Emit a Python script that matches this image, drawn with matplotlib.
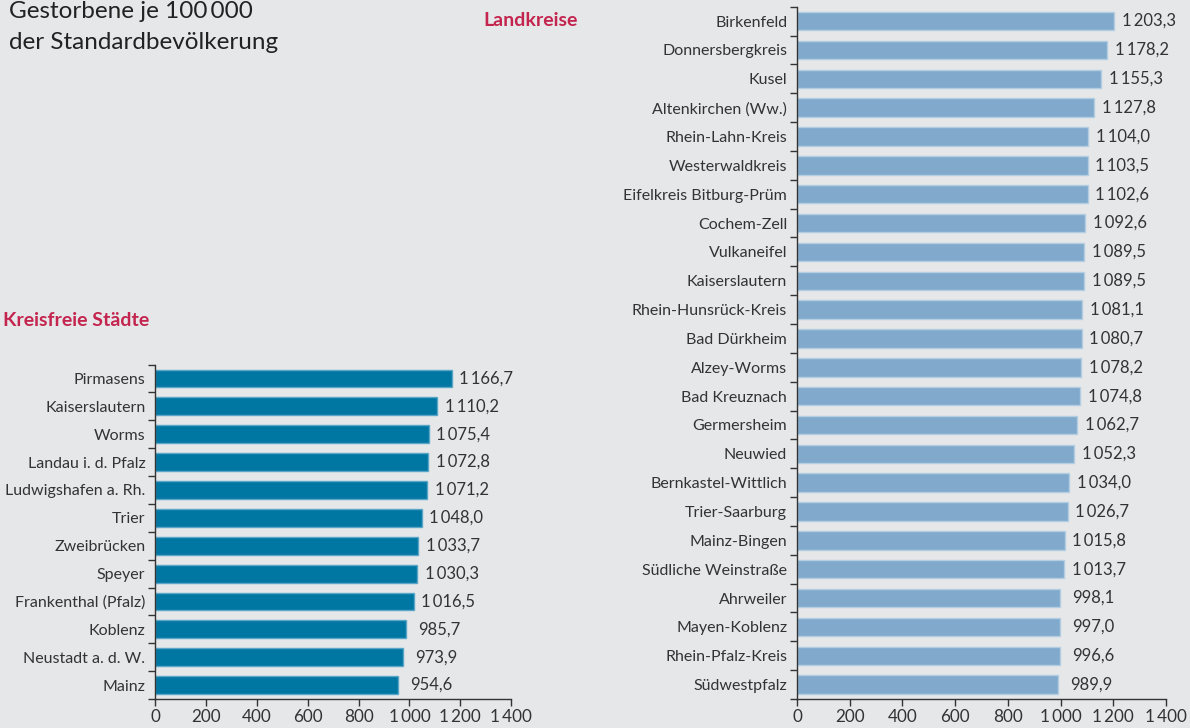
import matplotlib.pyplot as plt
from matplotlib.ticker import FixedLocator
import numpy as np

plt.rcParams['font.family'] = ['Lato', 'DejaVu Sans']

BG = '#e6e7e9'
TXT = '#333333'
RED = '#c4254f'

staedte = ['Pirmasens', 'Kaiserslautern', 'Worms', 'Landau i. d. Pfalz',
           'Ludwigshafen a. Rh.', 'Trier', 'Zweibrücken', 'Speyer',
           'Frankenthal (Pfalz)', 'Koblenz', 'Neustadt a. d. W.', 'Mainz']
staedte_vals = [1166.7, 1110.2, 1075.4, 1072.8, 1071.2, 1048.0, 1033.7,
                1030.3, 1016.5, 985.7, 973.9, 954.6]

kreise = ['Birkenfeld', 'Donnersbergkreis', 'Kusel', 'Altenkirchen (Ww.)',
          'Rhein-Lahn-Kreis', 'Westerwaldkreis', 'Eifelkreis Bitburg-Prüm',
          'Cochem-Zell', 'Vulkaneifel', 'Kaiserslautern', 'Rhein-Hunsrück-Kreis',
          'Bad Dürkheim', 'Alzey-Worms', 'Bad Kreuznach', 'Germersheim',
          'Neuwied', 'Bernkastel-Wittlich', 'Trier-Saarburg', 'Mainz-Bingen',
          'Südliche Weinstraße', 'Ahrweiler', 'Mayen-Koblenz',
          'Rhein-Pfalz-Kreis', 'Südwestpfalz']
kreise_vals = [1203.3, 1178.2, 1155.3, 1127.8, 1104.0, 1103.5, 1102.6, 1092.6,
               1089.5, 1089.5, 1081.1, 1080.7, 1078.2, 1074.8, 1062.7, 1052.3,
               1034.0, 1026.7, 1015.8, 1013.7, 998.1, 997.0, 996.6, 989.9]

xticks = [0, 200, 400, 600, 800, 1000, 1200, 1400]


def fmt(v):
    s = f"{v:,.1f}"
    return s.replace(',', '\u2009').replace('.', ',')


def draw(ax, names, vals, color, edge):
    n = len(names)
    y = np.arange(n)
    ax.barh(y, vals, height=0.64, color=color, edgecolor=edge, linewidth=1.0)
    ax.set_ylim(n - 0.5, -0.5)
    ax.set_xlim(0, 1400)
    ax.set_facecolor(BG)
    ax.set_yticks(y)
    ax.set_yticklabels(names, fontsize=11.5, color=TXT)
    ax.tick_params(axis='y', which='major', length=0, pad=7)
    ax.yaxis.set_minor_locator(FixedLocator(np.arange(n + 1) - 0.5))
    ax.tick_params(axis='y', which='minor', length=5, width=1, color=TXT)
    ax.set_xticks(xticks)
    ax.set_xticklabels([fmt(t)[:-2] for t in xticks], fontsize=12.3, color=TXT)
    ax.tick_params(axis='x', length=5, width=1, color=TXT, pad=2)
    for s in ['top', 'right']:
        ax.spines[s].set_visible(False)
    for s in ['left', 'bottom']:
        ax.spines[s].set_color(TXT)
        ax.spines[s].set_linewidth(1)
    for yi, v in zip(y, vals):
        off = 5.5 if v >= 1000 else 9
        ax.annotate(fmt(v), (v, yi), xytext=(off, 0), textcoords='offset points',
                    va='center', ha='left', fontsize=12, color=TXT)


fig = plt.figure(figsize=(11.9, 7.28), dpi=100, facecolor=BG)

ax1 = fig.add_axes([0.1303, 0.0398, 0.2992, 0.4595])
draw(ax1, staedte, staedte_vals, '#0076a3', '#5aa6c6')

ax2 = fig.add_axes([0.6697, 0.0398, 0.3101, 0.951])
draw(ax2, kreise, kreise_vals, '#80a9cb', '#b3cde2')

fig.text(9 / 1190, 1 - 18 / 728, 'Gestorbene je 100\u2009000',
         fontsize=17.5, color='#222222', va='baseline', ha='left')
fig.text(9 / 1190, 1 - 49 / 728, 'der Standardbevölkerung',
         fontsize=17.5, color='#222222', va='baseline', ha='left')
fig.text(3 / 1190, 1 - 326 / 728, 'Kreisfreie Städte', fontsize=14,
         fontweight='bold', color=RED, va='baseline', ha='left')
fig.text(483 / 1190, 1 - 26 / 728, 'Landkreise', fontsize=14,
         fontweight='bold', color=RED, va='baseline', ha='left')

fig.savefig('out.png', dpi=100, facecolor=BG)
